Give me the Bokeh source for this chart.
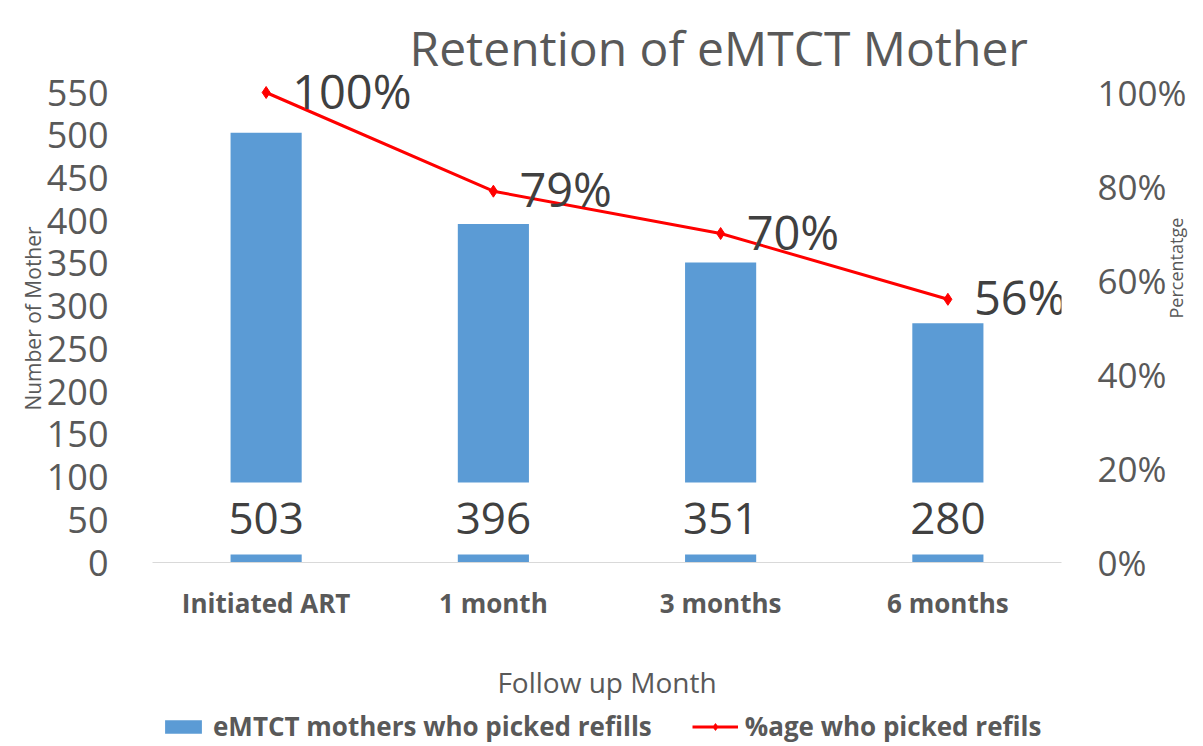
import math
from bokeh.plotting import figure
from bokeh.layouts import column
from bokeh.models import (ColumnDataSource, LinearAxis, Range1d, FactorRange, LabelSet,
                          Legend, LegendItem, FixedTicker, PrintfTickFormatter, Title)
from bokeh.core.properties import value
from bokeh.embed import file_html
from bokeh.resources import INLINE

# ---- data ----
categories = ["Initiated ART", "1 month", "3 months", "6 months"]
mothers = [503, 396, 351, 280]
percent = [100, 79, 70, 56]
percent_labels = ["100%", "79%", "70%", "56%"]
mother_labels = ["503", "396", "351", "280"]
left_ticks = [0, 50, 100, 150, 200, 250, 300, 350, 400, 450, 500, 550]
right_ticks = [0, 20, 40, 60, 80, 100]
series_names = ["eMTCT mothers who picked refills", "%age who picked refils"]

FONT = "Open Sans"
GREY = "#595959"
DARK = "#404040"
BLUE = "#5b9bd5"
RED = "#ff0000"

# ---- layout (pixels) ----
W, H, LEG_H = 1203, 706, 38
F_LEFT, F_RIGHT, F_TOP, F_BOTTOM = 152, 1072, 74, 562
AXIS_TOP_PX = 92          # pixel row where 550 / 100% sit
LEFT_MAX, RIGHT_MAX = 550, 100
px_per_left = (F_BOTTOM - AXIS_TOP_PX) / LEFT_MAX
y_end = (F_BOTTOM - F_TOP) / px_per_left
pct_end = RIGHT_MAX * y_end / LEFT_MAX

src = ColumnDataSource(dict(cat=categories, n=mothers, pct=percent,
                            plab=percent_labels, nlab=mother_labels,
                            zero=[0] * len(categories)))

p = figure(x_range=FactorRange(*categories, range_padding=0), y_range=Range1d(0, y_end),
           width=W, height=H, output_backend="svg", toolbar_location=None,
           min_border_left=F_LEFT, min_border_right=W - F_RIGHT,
           min_border_top=F_TOP, min_border_bottom=H - F_BOTTOM)
p.extra_y_ranges = {"pct": Range1d(0, pct_end)}
p.outline_line_color = None
p.xgrid.visible = False
p.ygrid.visible = False

# title
p.title = Title(text="Retention of eMTCT Mother", align="left", offset=257,
                text_font=FONT, text_font_size="48px", text_font_style="normal",
                text_color=GREY, standoff=-10)

# left axis
ya = p.yaxis[0]
ya.ticker = FixedTicker(ticks=left_ticks)
ya.major_label_text_font = FONT
ya.major_label_text_font_size = "36px"
ya.major_label_text_color = GREY
ya.major_label_standoff = 38
ya.axis_line_color = None
ya.major_tick_line_color = None
ya.minor_tick_line_color = None
ya.axis_label = "Number of Mother"
ya.axis_label_text_font = FONT
ya.axis_label_text_font_size = "21px"
ya.axis_label_text_font_style = "normal"
ya.axis_label_text_color = GREY
ya.axis_label_standoff = -3

# right axis
ra = LinearAxis(y_range_name="pct", ticker=FixedTicker(ticks=right_ticks),
                formatter=PrintfTickFormatter(format="%d%%"))
ra.major_label_text_font = FONT
ra.major_label_text_font_size = "35px"
ra.major_label_text_color = GREY
ra.major_label_standoff = 30
ra.axis_line_color = None
ra.major_tick_line_color = None
ra.minor_tick_line_color = None
ra.axis_label = "Percentatge"
ra.axis_label_text_font = FONT
ra.axis_label_text_font_size = "18px"
ra.axis_label_text_font_style = "normal"
ra.axis_label_text_color = GREY
ra.axis_label_standoff = -13
try:
    ra.axis_label_orientation = math.pi / 2
except Exception:
    pass
p.add_layout(ra, "right")

# x axis
xa = p.xaxis[0]
xa.major_label_text_font = FONT
xa.major_label_text_font_size = "26px"
xa.major_label_text_font_style = "bold"
xa.major_label_text_color = GREY
xa.major_label_standoff = 16
xa.axis_line_color = "#d9d9d9"
xa.axis_line_width = 1
xa.major_tick_line_color = None
xa.minor_tick_line_color = None
xa.axis_label = "Follow up Month"
xa.axis_label_text_font = FONT
xa.axis_label_text_font_size = "28px"
xa.axis_label_text_font_style = "normal"
xa.axis_label_text_color = GREY
xa.axis_label_standoff = 39

# bars
bars = p.vbar(x="cat", top="n", width=0.313, source=src, fill_color=BLUE, line_color=None)

# bar value labels (inside base, white background)
p.add_layout(LabelSet(x="cat", y="zero", text="nlab", source=src, y_offset=44,
                      text_align="center", text_baseline="middle",
                      text_font=value(FONT), text_font_size="44px", text_color=DARK,
                      background_fill_color="white",
                      border_line_color="white", border_line_width=41))

# line
ln = p.line(x="cat", y="pct", source=src, y_range_name="pct", line_color=RED, line_width=3)
mk = p.scatter(x="cat", y="pct", source=src, y_range_name="pct", marker="diamond",
               size=12, fill_color=RED, line_color=RED)
p.add_layout(LabelSet(x="cat", y="pct", text="plab", source=src, y_range_name="pct",
                      x_offset=26, y_offset=2, text_align="left", text_baseline="middle",
                      text_font=value(FONT), text_font_size="47px", text_color=DARK))

# ---- legend strip (own small figure; proxies share the series, kept out of view) ----
pl = figure(x_range=FactorRange(*categories), y_range=Range1d(0, 1),
            width=W, height=LEG_H, output_backend="svg", toolbar_location=None,
            x_axis_location=None, y_axis_location=None, min_border=0)
pl.outline_line_color = None
pl.xgrid.visible = False
pl.ygrid.visible = False
lb = pl.vbar(x="cat", top="n", bottom="n", width=0, source=src,
             fill_color=BLUE, line_color=None)
ll = pl.line(x="cat", y="pct", source=src, line_color=RED, line_width=3)
lm = pl.scatter(x="cat", y="pct", source=src, marker="diamond", size=12,
                fill_color=RED, line_color=RED)
legend = Legend(items=[LegendItem(label=series_names[0], renderers=[lb]),
                       LegendItem(label=series_names[1], renderers=[ll, lm])],
                orientation="horizontal", location=(8, 0),
                label_text_font=FONT, label_text_font_size="26px",
                label_text_font_style="bold", label_text_color=GREY,
                glyph_width=46, glyph_height=17, label_standoff=7, spacing=40,
                padding=0, margin=0, border_line_alpha=0, background_fill_alpha=0)
pl.add_layout(legend, "center")

open("out.html", "w").write(file_html(column(p, pl, spacing=0), INLINE))
